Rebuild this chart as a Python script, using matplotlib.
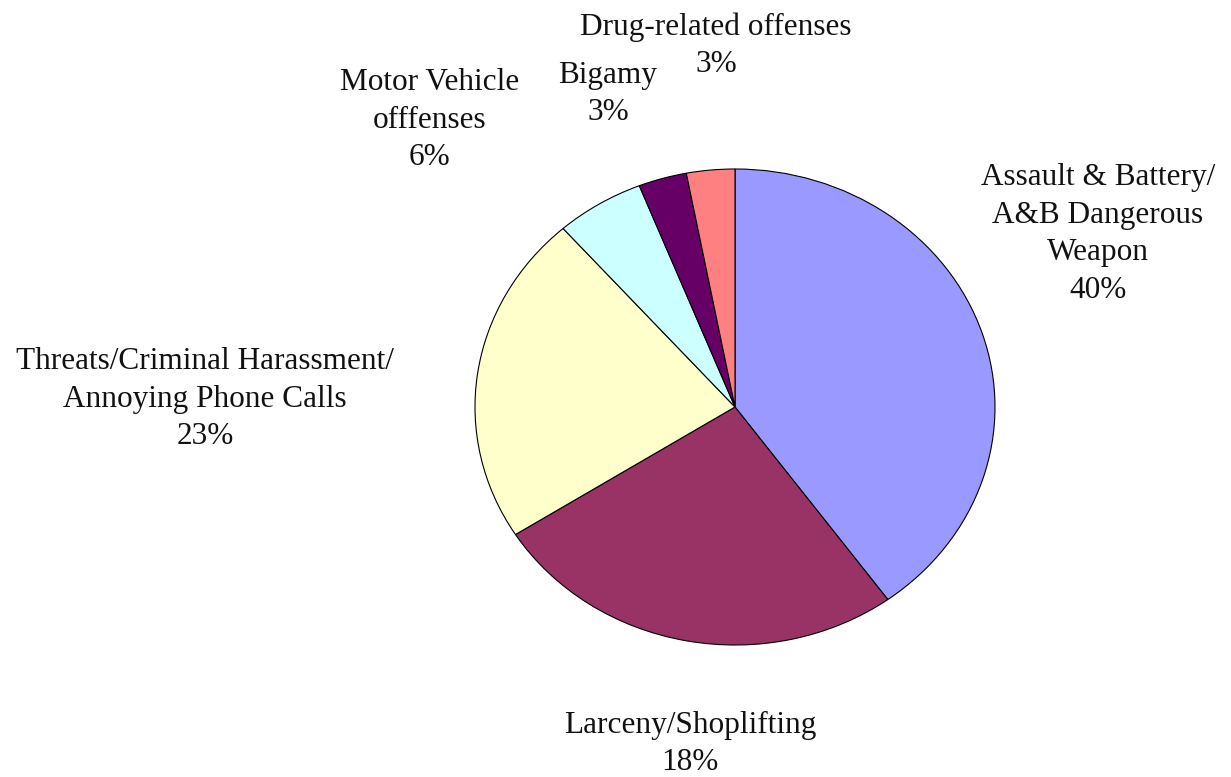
import matplotlib
matplotlib.use('Agg')
import matplotlib.pyplot as plt

plt.rcParams['font.family'] = ['Liberation Serif', 'DejaVu Serif']

# slice sizes as drawn (clockwise from 12 o'clock) and their printed labels
categories = ['Assault & Battery/\nA&B Dangerous\nWeapon',
              'Larceny/Shoplifting',
              'Threats/Criminal Harassment/\nAnnoying Phone Calls',
              'Motor Vehicle\nofffenses',
              'Bigamy',
              'Drug-related offenses']
sizes = [40, 26, 22.5, 5.5, 3, 3]
pct_labels = ['40%', '18%', '23%', '6%', '3%', '3%']
colors = ['#9999FF', '#993366', '#FFFFCC', '#CCFFFF', '#660066', '#FF8080']

# label centre x and first-line y, in pixels from top-left
label_pos = [(1098, 174), (690, 722), (205, 358), (430, 79), (608, 72), (716, 24)]
line_step = 37.5

W, H = 1231, 777
fig = plt.figure(figsize=(W / 100, H / 100), dpi=100)
# elliptical pie: horizontal radius 260px, vertical 238px, centre (735, 407)
cx, cy, rx, ry = 735, 407, 260, 238
ax = fig.add_axes([(cx - rx) / W, (H - cy - ry) / H, 2 * rx / W, 2 * ry / H])
ax.pie(sizes, colors=colors, startangle=90, counterclock=False,
       wedgeprops=dict(edgecolor='black', linewidth=0.8))
ax.set_aspect('auto')
ax.set_xlim(-1, 1)
ax.set_ylim(-1, 1)

for cat, pct, (x, y) in zip(categories, pct_labels, label_pos):
    lines = cat.split('\n') + [pct]
    for i, line in enumerate(lines):
        fig.text(x / W, 1 - (y + i * line_step) / H, line, ha='center',
                 va='center_baseline', fontsize=22.5, color='#111111')

fig.savefig('out.png', dpi=100, facecolor='white')
